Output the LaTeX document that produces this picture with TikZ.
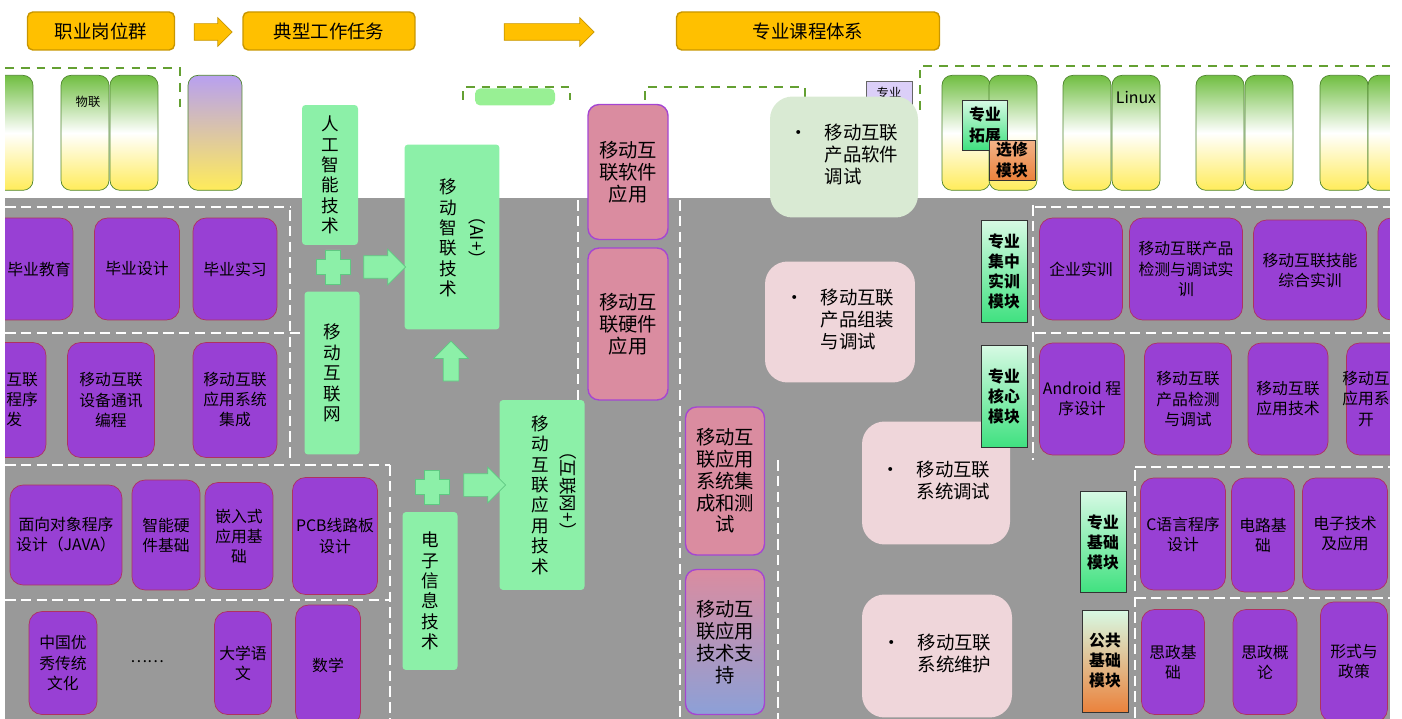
\documentclass[tikz,border=0pt]{standalone}
\usepackage{fontspec}
\setmainfont{Noto Sans CJK SC}
\usepackage{tikz}
\usetikzlibrary{shapes,arrows,positioning}
\definecolor{cpurple}{RGB}{152,64,212}
\definecolor{cpurpleedge}{RGB}{175,50,95}
\definecolor{cgreen}{RGB}{140,240,168}
\definecolor{cgreenedge}{RGB}{95,200,130}
\definecolor{cpink}{RGB}{218,140,160}
\definecolor{cpinkedge}{RGB}{165,70,210}
\definecolor{cblue}{RGB}{140,160,215}
\definecolor{cgold}{RGB}{255,192,0}
\definecolor{cgoldedge}{RGB}{200,150,0}
\definecolor{cbg}{RGB}{153,153,153}
\definecolor{ctaskpink}{RGB}{239,214,218}
\definecolor{ctaskgreen}{RGB}{217,234,211}
\definecolor{cmodtop}{RGB}{215,250,228}
\definecolor{cmodbot}{RGB}{64,225,128}
\definecolor{corange}{RGB}{235,130,60}
\definecolor{ctabgreen}{RGB}{112,190,65}
\definecolor{ctabyellow}{RGB}{255,236,90}
\definecolor{ctablilac}{RGB}{184,160,240}
\definecolor{cdash}{RGB}{100,160,50}
\tikzstyle{header} = [rectangle, rounded corners=3pt, draw=cgoldedge, fill=cgold, thick, font=\fontsize{10.5}{12}\selectfont]
\tikzstyle{headarrow} = [single arrow, draw=cgoldedge, fill=cgold, single arrow head extend=0.12cm, inner sep=0.16cm]
\tikzstyle{course} = [rectangle, rounded corners=0.26cm, draw=cpurpleedge, fill=cpurple, align=center, inner sep=1pt, font=\fontsize{9}{11.4}\selectfont]
\tikzstyle{coursetext} = [align=center, font=\fontsize{9}{11.4}\selectfont]
\tikzstyle{field} = [rectangle, rounded corners=2pt, fill=cgreen, align=center, inner sep=1pt, font=\fontsize{10}{11.6}\selectfont]
\tikzstyle{role} = [rectangle, rounded corners=0.22cm, draw=cpinkedge, thick, fill=cpink, align=center, font=\fontsize{11}{12.4}\selectfont]
\tikzstyle{task} = [rectangle, rounded corners=0.45cm, fill=ctaskpink, align=left, font=\fontsize{10.5}{12.2}\selectfont]
\tikzstyle{module} = [rectangle, draw=black!80, top color=cmodtop, bottom color=cmodbot, align=center, inner sep=1pt, font=\bfseries\fontsize{9}{11.4}\selectfont]
\tikzstyle{cert} = [rectangle, rounded corners=0.2cm, draw=ctabgreen!70!black, top color=ctabgreen, bottom color=ctabyellow, middle color=white, minimum width=0.96cm, minimum height=2.3cm, anchor=north]
\tikzstyle{blockarrow} = [single arrow, draw=cgreenedge, fill=cgreen, single arrow head extend=0.13cm, inner sep=0.22cm, minimum height=0.84cm]
\tikzstyle{plussign} = [fill=cgreen, draw=cgreenedge]
\tikzstyle{rowsep} = [white, line width=1.2pt, dash pattern=on 6pt off 3pt]
\tikzstyle{frame} = [cdash, thick, dash pattern=on 5pt off 4pt]

\begin{document}
\begin{tikzpicture}[x=0.02cm, y=-0.02cm]
\useasboundingbox (0,0) rectangle (1402,719);
\fill[cbg] (5,198) rectangle (1390,719);

% header
\node (hjob) [header, minimum width=2.94cm, minimum height=0.76cm] at (101,31) {职业岗位群};
\node (htask) [header, minimum width=3.44cm, minimum height=0.76cm] at (329,31) {典型工作任务};
\node (hcourse) [header, minimum width=5.26cm, minimum height=0.76cm] at (808,31) {专业课程体系};
\node (harr1) [headarrow, minimum height=0.76cm] at (209,32) {};
\node (harr2) [headarrow, minimum height=1.8cm] at (545,32) {};

% certificates
\draw[frame] (5,68) -- (180,68) -- (180,110);
\draw[frame] (463,100) -- (463,87) -- (570,87) -- (570,100);
\draw[frame] (645,100) -- (645,87) -- (805,87) -- (805,100);
\draw[frame] (920,110) -- (920,66) -- (1390,66);
\foreach \cx in {9,85,134,966,1013,1087,1136,1220,1269,1344,1392}
  \node (cert\cx) [cert] at (\cx,75) {};
\node (certai) [cert, top color=ctablilac, minimum width=1.08cm] at (215,75) {};
\node (wulian) [font=\fontsize{7}{8}\selectfont] at (88,102) {物联};
\node (linux) [font=\fontsize{9}{10}\selectfont] at (1136,97) {Linux};
\node (tasktab) [rectangle, rounded corners=3pt, fill=ctaskgreen!70!green, minimum width=1.6cm, minimum height=0.34cm] at (515,97) {};
\node (tag) [rectangle, draw=black!60, fill=ctablilac!50, minimum width=0.92cm, minimum height=0.38cm, font=\fontsize{7}{8}\selectfont] at (889,93) {专业};

% separators
\draw[rowsep] (5,207) -- (290,207);
\draw[rowsep] (5,333) -- (300,333);
\draw[rowsep] (5,465) -- (390,465);
\draw[rowsep] (5,600) -- (390,600);
\draw[rowsep] (1035,207) -- (1390,207);
\draw[rowsep] (1035,333) -- (1390,333);
\draw[rowsep] (1135,467) -- (1390,467);
\draw[rowsep] (1135,598) -- (1390,598);
\draw[rowsep] (290,210) -- (290,460);
\draw[rowsep] (390,465) -- (390,719);
\draw[rowsep] (1033,205) -- (1033,460);
\draw[rowsep] (1135,470) -- (1135,719);
\draw[rowsep] (578,200) -- (578,460);
\draw[rowsep] (680,200) -- (680,719);
\draw[rowsep] (778,460) -- (778,719);

% left courses
\node (c1) [course, minimum width=1.76cm, minimum height=2.04cm] at (29,269) {};
\node (c1t) [coursetext] at (39,269) {毕业教育};
\node (c2) [course, minimum width=1.7cm, minimum height=2.04cm] at (137,269) {毕业设计};
\node (c3) [course, minimum width=1.68cm, minimum height=2.04cm] at (235,269) {毕业实习};
\node (c4) [course, minimum width=1.72cm, minimum height=2.3cm] at (3,400) {};
\node (c4t) [coursetext, align=left, anchor=west, inner sep=0pt] at (6,400) {互联\\程序\\发};
\node (c5) [course, minimum width=1.74cm, minimum height=2.3cm] at (111,400) {移动互联\\设备通讯\\编程};
\node (c6) [course, minimum width=1.68cm, minimum height=2.3cm] at (235,400) {移动互联\\应用系统\\集成};
\node (c7) [course, minimum width=2.24cm, minimum height=2.0cm] at (66,535) {面向对象程序\\设计（JAVA）};
\node (c8) [course, minimum width=1.36cm, minimum height=2.2cm] at (166,535) {智能硬\\件基础};
\node (c9) [course, minimum width=1.36cm, minimum height=2.14cm] at (239,536) {嵌入式\\应用基\\础};
\node (c10) [course, minimum width=1.7cm, minimum height=2.34cm] at (335,536) {PCB线路板\\设计};
\node (c11) [course, minimum width=1.36cm, minimum height=2.06cm] at (63,663) {中国优\\秀传统\\文化};
\node (c12) [coursetext] at (147,662) {……};
\node (c13) [course, minimum width=1.14cm, minimum height=2.06cm] at (243,663) {大学语\\文};
\node (c14) [course, minimum width=1.3cm, minimum height=2.4cm] at (328,665) {数学};

% fields
\node (g1) [field, minimum width=1.12cm, minimum height=2.8cm] at (330,175) {人\\工\\智\\能\\技\\术};
\node (g2) [field, minimum width=1.1cm, minimum height=3.26cm] at (332,373) {移\\动\\互\\联\\网};
\node (g3) [field, minimum width=1.9cm, minimum height=3.7cm] at (452,237) {};
\node (g3a) [font=\fontsize{10}{11.6}\selectfont, align=center] at (448,238) {移\\动\\智\\联\\技\\术};
\node (g3b) [font=\fontsize{10}{11.6}\selectfont, rotate=-90] at (477,238) {（AI+）};
\node (g4) [field, minimum width=1.7cm, minimum height=3.8cm] at (542,495) {};
\node (g4a) [font=\fontsize{10}{11.6}\selectfont, align=center] at (540,495) {移\\动\\互\\联\\应\\用\\技\\术};
\node (g4b) [font=\fontsize{10}{11.6}\selectfont, rotate=-90] at (568,491) {（互联网+）};
\node (g5) [field, minimum width=1.1cm, minimum height=3.16cm] at (430,591) {电\\子\\信\\息\\技\\术};
\foreach \cx/\cy in {333/267, 432/487}
  \filldraw[plussign, shift={(\cx,\cy)}] (-7.5,-17) -- (7.5,-17) -- (7.5,-7.5) -- (17,-7.5) -- (17,7.5) -- (7.5,7.5) -- (7.5,17) -- (-7.5,17) -- (-7.5,7.5) -- (-17,7.5) -- (-17,-7.5) -- (-7.5,-7.5) -- cycle;
\node (arr1) [blockarrow] at (379,267) {};
\node (arr2) [blockarrow] at (479,485) {};
\node (arrup) [blockarrow, shape border rotate=90, inner sep=0.15cm, single arrow head extend=0.19cm, minimum height=0.8cm] at (451,365) {};

% roles
\node (p1) [role, minimum width=1.6cm, minimum height=2.7cm] at (628,172) {移动互\\联软件\\应用};
\node (p2) [role, minimum width=1.6cm, minimum height=3.04cm] at (628,324) {移动互\\联硬件\\应用};
\node (p3) [role, minimum width=1.58cm, minimum height=2.96cm] at (725,481) {移动互\\联应用\\系统集\\成和测\\试};
\node (p4) [role, top color=cpink, middle color=cpink, bottom color=cblue, minimum width=1.58cm, minimum height=2.9cm] at (725,642) {移动互\\联应用\\技术支\\持};

% tasks
\node (t1) [task, fill=ctaskgreen, minimum width=2.96cm, minimum height=2.42cm] at (844,157) {•\hspace{0.9em}\begin{tabular}[t]{@{}l@{}}移动互联\\产品软件\\调试\end{tabular}};
\node (t2) [task, minimum width=3.0cm, minimum height=2.42cm] at (840,322) {•\hspace{0.9em}\begin{tabular}[t]{@{}l@{}}移动互联\\产品组装\\与调试\end{tabular}};
\node (t3) [task, minimum width=2.96cm, minimum height=2.46cm] at (936,483) {•\hspace{0.9em}\begin{tabular}[t]{@{}l@{}}移动互联\\系统调试\end{tabular}};
\node (t4) [task, minimum width=3.0cm, minimum height=2.46cm] at (937,656) {•\hspace{0.9em}\begin{tabular}[t]{@{}l@{}}移动互联\\系统维护\end{tabular}};

% modules
\node (m1) [module, minimum width=0.9cm, minimum height=1.0cm] at (985,125) {专业\\拓展};
\node (m1b) [module, top color=corange!60, bottom color=corange, minimum width=0.92cm, minimum height=0.8cm] at (1012,160) {选修\\模块};
\node (m2) [module, minimum width=0.92cm, minimum height=2.04cm] at (1004,271) {专业\\集中\\实训\\模块};
\node (m3) [module, minimum width=0.92cm, minimum height=2.04cm] at (1004,396) {专业\\核心\\模块};
\node (m4) [module, minimum width=0.92cm, minimum height=2.02cm] at (1103,542) {专业\\基础\\模块};
\node (m5) [module, middle color=cmodbot, bottom color=corange, minimum width=0.92cm, minimum height=2.04cm] at (1105,661) {公共\\基础\\模块};

% right courses
\node (r1) [course, minimum width=1.66cm, minimum height=2.04cm] at (1081,269) {企业实训};
\node (r2) [course, minimum width=2.26cm, minimum height=2.04cm] at (1186,269) {移动互联产品\\检测与调试实\\训};
\node (r3) [course, minimum width=2.26cm, minimum height=2.0cm] at (1310,270) {移动互联技能\\综合实训};
\node (r4) [course, minimum width=1.44cm, minimum height=2.04cm] at (1414,269) {};
\node (r5) [course, minimum width=1.7cm, minimum height=2.24cm] at (1082,399) {Android 程\\序设计};
\node (r6) [course, minimum width=1.74cm, minimum height=2.24cm] at (1188,399) {移动互联\\产品检测\\与调试};
\node (r7) [course, minimum width=1.6cm, minimum height=2.24cm] at (1288,399) {移动互联\\应用技术};
\node (r8) [course, minimum width=1.66cm, minimum height=2.24cm] at (1388,399) {};
\node (r8t) [coursetext] at (1366,399) {移动互\\应用系\\开};
\node (r9) [course, minimum width=1.7cm, minimum height=2.24cm] at (1183,534) {C语言程序\\设计};
\node (r10) [course, minimum width=1.26cm, minimum height=2.28cm] at (1263,535) {电路基\\础};
\node (r11) [course, minimum width=1.7cm, minimum height=2.24cm] at (1345,534) {电子技术\\及应用};
\node (r12) [course, minimum width=1.26cm, minimum height=2.1cm] at (1173,662) {思政基\\础};
\node (r13) [course, minimum width=1.28cm, minimum height=2.1cm] at (1265,662) {思政概\\论};
\node (r14) [course, minimum width=1.34cm, minimum height=2.4cm] at (1354,662) {形式与\\政策};

% margins
\fill[white] (0,0) rectangle (5,719);
\fill[white] (1390,0) rectangle (1402,719);
\end{tikzpicture}
\end{document}
